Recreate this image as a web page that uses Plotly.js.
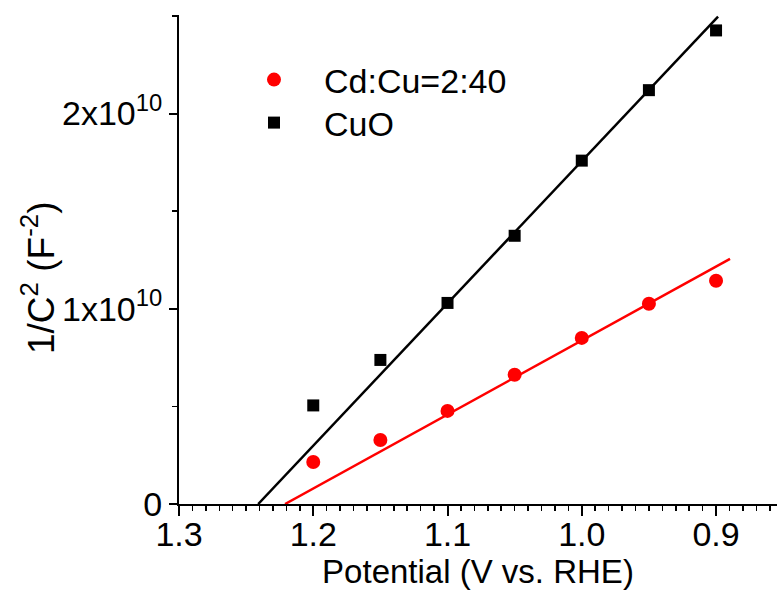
<!DOCTYPE html>
<html>
<head>
<meta charset="utf-8">
<script src="https://cdn.plot.ly/plotly-3.0.1.min.js"></script>
<style>html,body{margin:0;padding:0;background:#fff;}#chart{width:777px;height:594px;}</style>
</head>
<body>
<div id="chart"></div>
<script>
// Data
var potential = [1.2, 1.15, 1.1, 1.05, 1.0, 0.95, 0.9];
var cdcuValues = [0.215e10, 0.328e10, 0.477e10, 0.662e10, 0.851e10, 1.026e10, 1.144e10];
var cuoValues = [0.505e10, 0.738e10, 1.03e10, 1.374e10, 1.759e10, 2.12e10, 2.426e10];
var cdcuFitX = [1.221, 0.8896];
var cdcuFitY = [0, 1.256e10];
var cuoFitX = [1.241, 0.8985];
var cuoFitY = [0, 2.497e10];
var xTickVals = [1.3, 1.2, 1.1, 1.0, 0.9];
var xTickText = ['1.3', '1.2', '1.1', '1.0', '0.9'];
var yTickVals = [0, 1e10, 2e10];
var yTickText = ['0', '1x10<sup>10</sup>', '2x10<sup>10</sup>'];
var seriesNames = ['Cd:Cu=2:40', 'CuO'];

var FONT = 'Liberation Sans, Arial, sans-serif';

var traces = [
  {x: potential, y: cdcuValues, name: seriesNames[0], type: 'scatter', mode: 'markers',
   legend: 'legend', marker: {symbol: 'circle', size: 14, color: '#ff0000'}},
  {x: potential, y: cuoValues, name: seriesNames[1], type: 'scatter', mode: 'markers',
   legend: 'legend2', marker: {symbol: 'square', size: 12, color: '#000000'}},
  {x: cdcuFitX, y: cdcuFitY, type: 'scatter', mode: 'lines', showlegend: false,
   line: {color: '#ff0000', width: 2.5}},
  {x: cuoFitX, y: cuoFitY, type: 'scatter', mode: 'lines', showlegend: false,
   line: {color: '#000000', width: 2.5}}
];

function legendBox(py) {
  return {x: (224 - 179) / 598, y: (504 - py) / 489, xanchor: 'left', yanchor: 'middle',
          bgcolor: 'rgba(0,0,0,0)', font: {size: 34, family: FONT, color: '#000'},
          itemwidth: 90, tracegroupgap: 0};
}

var layout = {
  width: 777, height: 594,
  margin: {l: 179, r: 0, t: 15, b: 90, pad: 0},
  paper_bgcolor: '#fff', plot_bgcolor: '#fff',
  font: {family: FONT, color: '#000'},
  showlegend: true,
  legend: legendBox(80),
  legend2: legendBox(123),
  xaxis: {
    range: [1.3, 0.8546], autorange: false,
    showgrid: false, zeroline: false,
    showline: true, linecolor: '#000', linewidth: 2,
    tickmode: 'array', tickvals: xTickVals, ticktext: xTickText,
    ticks: 'outside', ticklen: 10, tickwidth: 2, tickcolor: '#000',
    ticklabelstandoff: -11,
    tickfont: {size: 34, family: FONT, color: '#000'},
    minor: {dtick: 0.01, tick0: 0, ticks: 'outside', ticklen: 5, tickwidth: 1.5, tickcolor: '#000', showgrid: false},
    title: {text: 'Potential (V vs. RHE)', font: {size: 33, family: FONT, color: '#000'}, standoff: 2},
    automargin: false
  },
  yaxis: {
    range: [0, 2.505e10], autorange: false,
    showgrid: false, zeroline: false,
    showline: true, linecolor: '#000', linewidth: 2,
    tickmode: 'array', tickvals: yTickVals, ticktext: yTickText,
    ticks: 'outside', ticklen: 8, tickwidth: 2, tickcolor: '#000',
    tickfont: {size: 34, family: FONT, color: '#000'},
    minor: {dtick: 0.5e10, tick0: 0, ticks: 'outside', ticklen: 5, tickwidth: 1.5, tickcolor: '#000', showgrid: false},
    automargin: false
  },
  annotations: [
    {text: '1/C<sup>2</sup> (F<sup>-2</sup>)', xref: 'paper', yref: 'paper',
     x: (39 - 179) / 598, y: (504 - 278) / 489, xanchor: 'center', yanchor: 'middle',
     textangle: -90, showarrow: false, font: {size: 37, family: FONT, color: '#000'}}
  ]
};

Plotly.newPlot('chart', traces, layout, {displayModeBar: false, staticPlot: true});
</script>
</body>
</html>
